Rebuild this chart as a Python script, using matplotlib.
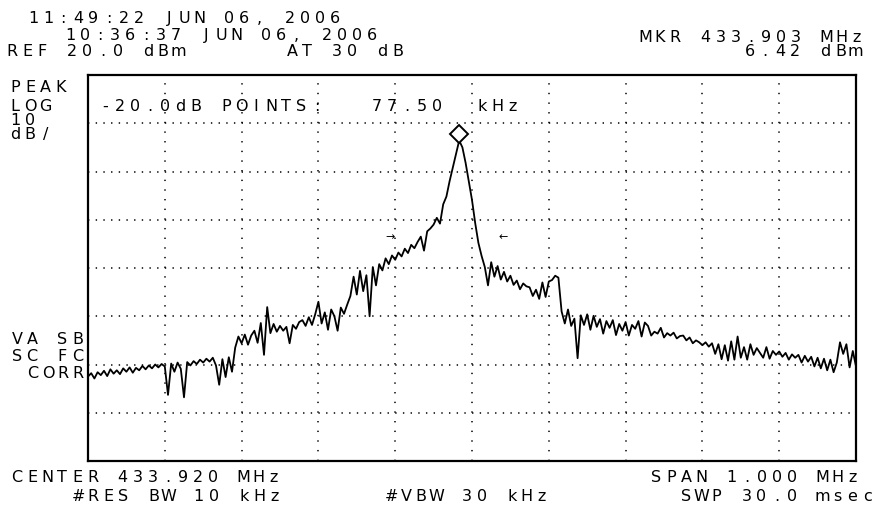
import numpy as np
import matplotlib
matplotlib.use("Agg")
import matplotlib.pyplot as plt
from matplotlib.transforms import offset_copy

# analyzer settings
center_mhz = 433.920
span_mhz = 1.000
ref_dbm = 20.0
db_div = 10
atten_db = 30
rbw_khz = 10
vbw_khz = 30
sweep_ms = 30.0
mkr_mhz = 433.903
mkr_dbm = 6.42
pts_db = -20.0
pts_khz = 77.50
arrow_mhz = [433.813, 433.960]
stamps = ["11:49:22 JUN 06, 2006", "10:36:37 JUN 06, 2006"]
side_labels = ["PEAK", "LOG", "10", "dB/"]
flag_labels = ["VA SB", "SC FC", "CORR"]

# trace levels (dBm), one per sweep point
level_dbm = [
    -42.5, -41.8, -42.9, -41.6, -42.2, -41.3, -42.4, -41.0, -41.9, -41.2,
    -42.0, -40.8, -41.5, -40.6, -41.7, -40.7, -41.2, -40.3, -41.0, -40.2,
    -40.8, -40.0, -40.6, -39.9, -40.4, -46.3, -39.8, -41.5, -39.6, -40.9,
    -46.8, -39.5, -40.2, -39.3, -39.9, -39.0, -39.6, -38.8, -39.4, -38.6,
    -40.2, -44.2, -38.9, -42.6, -38.5, -41.5, -36.5, -34.2, -35.6, -33.8,
    -35.9, -34.0, -33.0, -35.5, -31.4, -38.0, -28.1, -33.5, -31.6, -33.2,
    -32.0, -33.0, -32.2, -35.6, -31.8, -32.6, -31.2, -30.8, -32.0, -30.2,
    -31.8, -29.6, -27.0, -31.5, -29.2, -32.8, -28.6, -30.0, -33.0, -28.2,
    -29.5, -27.6, -25.8, -21.8, -25.5, -20.6, -24.8, -21.5, -30.0, -19.8,
    -23.6, -19.2, -20.5, -18.0, -19.2, -17.4, -18.3, -16.8, -17.6, -16.0,
    -16.9, -15.2, -15.9, -14.6, -13.5, -16.4, -12.4, -11.8, -11.0, -9.6,
    -10.8, -6.8, -5.2, -2.0, 0.8, 3.6, 6.42, 5.0, 1.8, -2.0,
    -5.9, -10.7, -14.8, -17.5, -19.8, -23.6, -18.8, -21.8, -19.6, -22.4,
    -20.8, -22.8, -21.6, -23.5, -22.6, -24.4, -23.2, -23.8, -24.0, -25.8,
    -24.5, -26.4, -23.0, -26.0, -22.8, -22.5, -21.6, -22.0, -29.0, -31.5,
    -28.6, -32.0, -30.5, -38.7, -29.8, -31.8, -29.6, -32.8, -29.9, -32.2,
    -30.6, -33.6, -31.0, -32.4, -30.8, -33.9, -31.6, -33.0, -31.2, -34.0,
    -31.8, -32.6, -31.0, -34.2, -31.3, -32.0, -34.0, -33.2, -33.6, -32.4,
    -34.4, -33.5, -34.0, -33.4, -34.6, -34.1, -34.0, -35.0, -34.4, -35.6,
    -35.0, -35.4, -36.0, -35.4, -36.3, -35.6, -37.8, -35.8, -38.9, -36.0,
    -39.2, -35.2, -39.0, -34.2, -38.6, -36.4, -39.0, -35.8, -38.0, -36.6,
    -37.6, -38.6, -36.4, -38.8, -37.2, -38.0, -37.3, -38.4, -37.6, -39.0,
    -37.9, -38.6, -38.0, -39.6, -38.2, -39.4, -38.4, -40.4, -38.6, -40.8,
    -38.8, -41.2, -39.0, -41.6, -39.6, -35.4, -37.8, -35.8, -40.6, -37.2,
    -40.4,
]

f_lo = center_mhz - span_mhz / 2
f_hi = center_mhz + span_mhz / 2
freq_mhz = np.linspace(f_lo, f_hi, len(level_dbm))

W, H = 875, 508
plt.rcParams["lines.scale_dashes"] = False
fig = plt.figure(figsize=(W / 100, H / 100), dpi=100)
fig.patch.set_facecolor("white")

# graticule box in pixels: x 88..856, y 75..461
ax = fig.add_axes([88 / W, 1 - 461 / H, 768 / W, 386 / H])
ax.set_xlim(f_lo, f_hi)
ax.set_ylim(ref_dbm - 8 * db_div, ref_dbm)
ax.set_xticks([])
ax.set_yticks([])
for sp in ax.spines.values():
    sp.set_linewidth(1.6)
    sp.set_color("black")

for lev in np.arange(ref_dbm - 7 * db_div, ref_dbm, db_div):
    ax.axhline(lev, color="black", lw=1.1, ls=(0, (1.0, 4.53)), zorder=1)
for f in np.linspace(f_lo, f_hi, 11)[1:-1]:
    ax.axvline(f, color="black", lw=1.1, ls=(0, (1.0, 5.95)), zorder=1)

ax.plot(freq_mhz, level_dbm, color="black", lw=1.3, zorder=3)

# marker diamond sits just above the peak
up = offset_copy(ax.transData, fig=fig, x=0, y=5, units="points")
ax.plot([mkr_mhz], [mkr_dbm], marker="D", ms=9, mfc="white", mec="black",
        mew=1.4, transform=up, zorder=4)
ax.text(arrow_mhz[0], mkr_dbm + pts_db, "\u2192", ha="center", va="center",
        fontsize=8, family="DejaVu Sans", zorder=4)
ax.text(arrow_mhz[1], mkr_dbm + pts_db, "\u2190", ha="center", va="center",
        fontsize=8, family="DejaVu Sans", zorder=4)


def hp_text(x, y, s, pitch=15.1):
    # fixed-pitch screen font: one cell per character
    for i, ch in enumerate(s):
        if ch == " ":
            continue
        fig.text((x + i * pitch + 5) / W, 1 - (y + 5.8) / H, ch,
                 ha="center", va="baseline", fontsize=11.5,
                 family="DejaVu Sans", color="black")


hp_text(28, 17, stamps[0])
hp_text(65, 34, stamps[1])
hp_text(7, 50, f"REF {ref_dbm:.1f} dBm")
hp_text(287, 50, f"AT {atten_db} dB")
hp_text(640, 36, f"MKR {mkr_mhz:.3f} MHz")
hp_text(745, 50, f"{mkr_dbm:.2f} dBm")

for lab, yy in zip(side_labels, [86, 105, 119, 133]):
    hp_text(10, yy, lab)
hp_text(100, 105, f"{pts_db:.1f}dB POINTS:   {pts_khz:.2f}  kHz")

hp_text(12, 338, flag_labels[0])
hp_text(12, 355, flag_labels[1])
hp_text(28, 372, flag_labels[2])

hp_text(12, 476, f"CENTER {center_mhz:.3f} MHz")
hp_text(651, 476, f"SPAN {span_mhz:.3f} MHz")
hp_text(73, 495, f"#RES BW {rbw_khz} kHz")
hp_text(386, 495, f"#VBW {vbw_khz} kHz")
hp_text(681, 495, f"SWP {sweep_ms:.1f} msec")

fig.savefig("out.png", dpi=100)
